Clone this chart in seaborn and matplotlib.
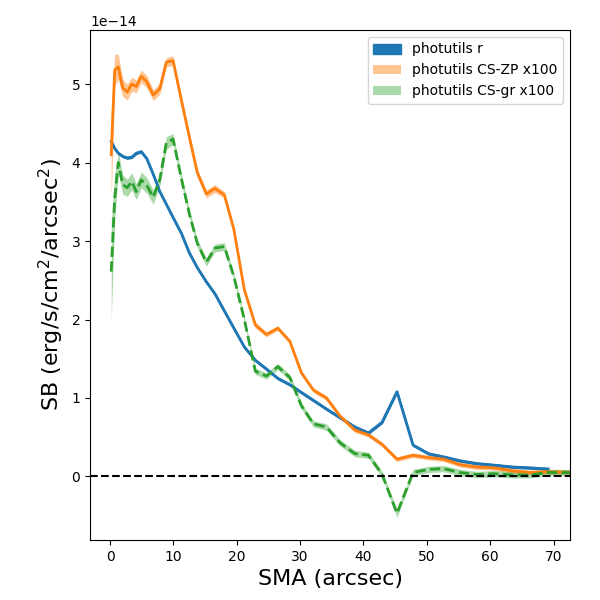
import numpy as np
import matplotlib
matplotlib.use("Agg")
import matplotlib.pyplot as plt
import seaborn as sns

# 半长轴 (arcsec)
sma = [0.19, 0.74, 1.30, 2.01, 2.72, 3.43, 4.14, 4.93, 5.80, 6.82,
       7.85, 8.88, 9.95, 11.25, 12.51, 13.78, 15.20, 16.54, 18.04, 19.54,
       21.20, 22.94, 24.68, 26.49, 28.39, 30.21, 32.10, 34.16, 36.29, 38.66,
       40.79, 42.92, 45.29, 47.82, 50.27, 52.64, 55.25, 57.85, 60.54, 63.62,
       66.30, 69.15, 72.0, 74.8]

# 面亮度, 单位 1e-14
sb_r = [4.27, 4.18, 4.12, 4.08, 4.06, 4.07, 4.12, 4.14, 4.05, 3.85,
        3.63, 3.47, 3.30, 3.10, 2.85, 2.66, 2.48, 2.33, 2.11, 1.89,
        1.65, 1.48, 1.37, 1.25, 1.17, 1.07, 0.97, 0.86, 0.75, 0.63,
        0.555, 0.69, 1.08, 0.40, 0.29, 0.25, 0.20, 0.165, 0.145, 0.12,
        0.11, 0.095]
err_r = [0.01] * len(sb_r)

sb_zp = [4.10, 5.18, 5.22, 4.95, 4.90, 5.00, 4.97, 5.10, 5.03, 4.86,
         4.94, 5.28, 5.30, 4.80, 4.33, 3.87, 3.60, 3.67, 3.59, 3.15,
         2.38, 1.93, 1.81, 1.89, 1.72, 1.32, 1.10, 1.00, 0.77, 0.59,
         0.53, 0.41, 0.22, 0.27, 0.24, 0.22, 0.15, 0.12, 0.11, 0.07,
         0.05, 0.06, 0.055, 0.05]
err_zp = [0.55, 0.20, 0.16, 0.11, 0.10, 0.09, 0.08, 0.08, 0.08, 0.07,
          0.07, 0.06, 0.06, 0.05, 0.05, 0.05, 0.05, 0.05, 0.04, 0.04,
          0.04, 0.04, 0.03, 0.03, 0.03, 0.03, 0.03, 0.03, 0.03, 0.03,
          0.03, 0.03, 0.03, 0.03, 0.03, 0.03, 0.03, 0.03, 0.03, 0.03,
          0.03, 0.03, 0.03, 0.03]

sb_gr = [2.61, 3.55, 4.00, 3.72, 3.68, 3.76, 3.63, 3.78, 3.71, 3.56,
         3.78, 4.25, 4.30, 3.80, 3.35, 2.97, 2.73, 2.91, 2.93, 2.55,
         2.00, 1.34, 1.28, 1.40, 1.26, 0.90, 0.67, 0.63, 0.43, 0.29,
         0.27, 0.03, -0.47, 0.05, 0.09, 0.10, 0.05, 0.025, 0.035, 0.02,
         0.02, 0.05, 0.05, 0.05]
err_gr = [0.62, 0.28, 0.14, 0.12, 0.11, 0.11, 0.10, 0.10, 0.10, 0.09,
          0.08, 0.08, 0.07, 0.06, 0.05, 0.05, 0.05, 0.05, 0.05, 0.04,
          0.04, 0.04, 0.04, 0.04, 0.04, 0.04, 0.04, 0.04, 0.04, 0.04,
          0.04, 0.04, 0.05, 0.04, 0.04, 0.04, 0.04, 0.04, 0.04, 0.04,
          0.04, 0.04, 0.04, 0.04]

scale = 1e-14
x_r = np.array(sma[:len(sb_r)])
x = np.array(sma)
y_r = np.array(sb_r) * scale
y_zp = np.array(sb_zp) * scale
y_gr = np.array(sb_gr) * scale
e_r = np.array(err_r) * scale
e_zp = np.array(err_zp) * scale
e_gr = np.array(err_gr) * scale

c_blue, c_orange, c_green = sns.color_palette("tab10")[:3]

fig = plt.figure(figsize=(6, 6), dpi=100)
ax = fig.add_axes([0.15, 0.10, 0.80, 0.85])

# 误差带
ax.fill_between(x_r, y_r - e_r, y_r + e_r, color=c_blue, label="photutils r")
ax.fill_between(x, y_zp - e_zp, y_zp + e_zp, color=c_orange, alpha=0.45, lw=0,
                label="photutils CS-ZP x100")
ax.fill_between(x, y_gr - e_gr, y_gr + e_gr, color=c_green, alpha=0.4, lw=0,
                label="photutils CS-gr x100")

# 轮廓线
sns.lineplot(x=x_r, y=y_r, color=c_blue, lw=2, ax=ax, sort=False)
sns.lineplot(x=x, y=y_zp, color=c_orange, lw=2, ax=ax, sort=False)
sns.lineplot(x=x, y=y_gr, color=c_green, lw=2, ls="--", ax=ax, sort=False)

ax.axhline(0, color="k", ls="--", lw=1.5)

ax.set_xlim(-3.16, 72.6)
ax.set_ylim(-0.81e-14, 5.69e-14)
ax.set_xlabel("SMA (arcsec)", fontsize=16)
ax.set_ylabel("SB (erg/s/cm$^2$/arcsec$^2$)", fontsize=16)
ax.legend(loc="upper right")

fig.savefig("out.png", dpi=100)
